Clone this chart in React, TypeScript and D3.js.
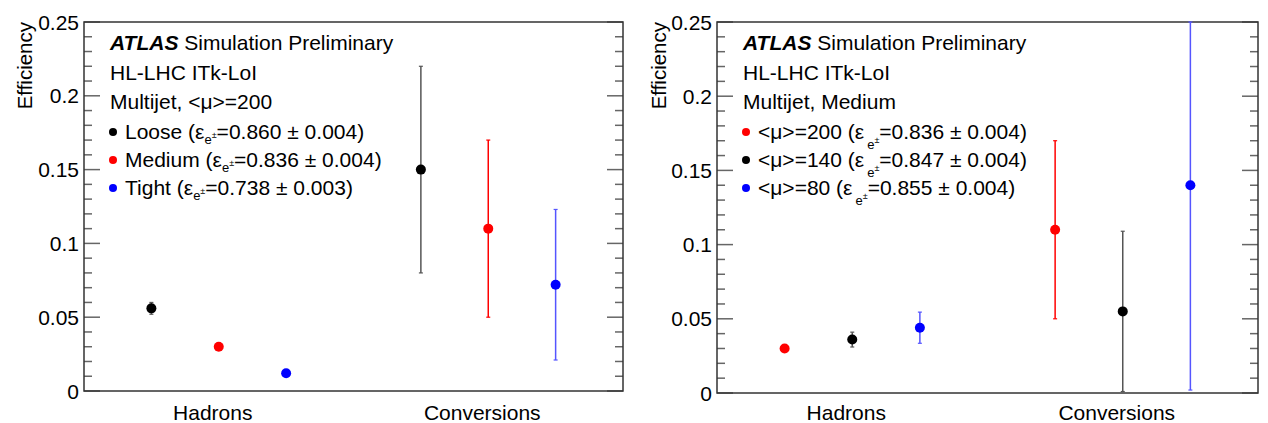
import React from "react";
import * as d3 from "d3";

const W = 1268;
const H = 423;

const categories = ["Hadrons", "Conversions"];
const yTicks = [0, 0.05, 0.1, 0.15, 0.2, 0.25];
const yTickLabels = ["0", "0.05", "0.1", "0.15", "0.2", "0.25"];

// left panel: working points
const leftNames = ["Loose", "Medium", "Tight"];
const leftEff = ["0.860 \u00b1 0.004", "0.836 \u00b1 0.004", "0.738 \u00b1 0.003"];
const leftColors = ["#000000", "#ff0000", "#0000ff"];
const leftHadrons = [0.056, 0.030, 0.012];
const leftHadronsErr = [0.004, 0.0015, 0.001];
const leftConversions = [0.150, 0.110, 0.072];
const leftConversionsErr = [0.070, 0.060, 0.051];

// right panel: pile-up
const rightNames = ["<\u03bc>=200", "<\u03bc>=140", "<\u03bc>=80"];
const rightEff = ["0.836 \u00b1 0.004", "0.847 \u00b1 0.004", "0.855 \u00b1 0.004"];
const rightColors = ["#ff0000", "#000000", "#0000ff"];
const rightHadrons = [0.030, 0.036, 0.044];
const rightHadronsErr = [0.0015, 0.005, 0.0105];
const rightConversions = [0.110, 0.055, 0.140];
const rightConversionsErr = [0.060, 0.054, 0.138];

const FONT = "'Liberation Sans', Arial, Helvetica, sans-serif";
const errColor: Record<string, string> = {
  "#000000": "#555555",
  "#ff0000": "#ff0000",
  "#0000ff": "#5555ff",
};

type PanelProps = {
  x0: number; x1: number; y0: number; y1: number;
  titleX: number;
  subtitle: string;
  names: string[]; eff: string[]; colors: string[];
  hadrons: number[]; hadronsErr: number[];
  conversions: number[]; conversionsErr: number[];
  subDy: number;
  subGap: number;
};

const Panel = (p: PanelProps) => {
  const y = d3.scaleLinear().domain([0, 0.25]).range([p.y1, p.y0]);
  const x = d3.scaleBand().domain(categories).range([p.x0, p.x1]).padding(0);
  const inner = d3.scalePoint<number>().domain([0, 1, 2]).range([x.bandwidth() * 0.25, x.bandwidth() * 0.75]);
  const minor = d3.range(0, 26).map((i) => i * 0.01);
  const clip = (v: number) => Math.min(Math.max(v, 0), 0.25);
  const series = [p.hadrons, p.conversions];
  const errs = [p.hadronsErr, p.conversionsErr];

  return (
    <g fontFamily={FONT}>
      {/* ticks */}
      {minor.map((t, i) => {
        const len = i % 5 === 0 ? 16 : 8;
        return (
          <g key={"t" + i} stroke="#666" strokeWidth={1.5}>
            <line x1={p.x0} x2={p.x0 + len} y1={y(t)} y2={y(t)} />
            <line x1={p.x1} x2={p.x1 - len} y1={y(t)} y2={y(t)} />
          </g>
        );
      })}
      <rect x={p.x0} y={p.y0} width={p.x1 - p.x0} height={p.y1 - p.y0} fill="none" stroke="#333" strokeWidth={1.5} />
      {yTicks.map((t, i) => (
        <text key={"l" + i} x={p.x0 - 5} y={y(t)} dy="0.36em" textAnchor="end" fontSize={21}>{yTickLabels[i]}</text>
      ))}
      <text transform={`translate(${p.titleX},${p.y0}) rotate(-90)`} textAnchor="end" fontSize={20.5}>Efficiency</text>
      {categories.map((c) => (
        <text key={c} x={(x(c) as number) + x.bandwidth() / 2 - 6} y={420} textAnchor="middle" fontSize={21}>{c}</text>
      ))}

      {/* points */}
      {categories.map((c, ci) =>
        series[ci].map((v, si) => {
          const cx = (x(c) as number) + (inner(si) as number);
          const lo = y(clip(v - errs[ci][si]));
          const hi = y(clip(v + errs[ci][si]));
          const ec = errColor[p.colors[si]];
          return (
            <g key={c + si}>
              <line x1={cx} x2={cx} y1={lo} y2={hi} stroke={ec} strokeWidth={1.5} />
              <line x1={cx - 2} x2={cx + 2} y1={lo} y2={lo} stroke={ec} strokeWidth={1.2} />
              <line x1={cx - 2} x2={cx + 2} y1={hi} y2={hi} stroke={ec} strokeWidth={1.2} />
              <circle cx={cx} cy={y(v)} r={5} fill={p.colors[si]} />
            </g>
          );
        })
      )}

      {/* text */}
      <text x={p.x0 + 26} y={50} fontSize={21}>
        <tspan fontWeight="bold" fontStyle="italic">ATLAS</tspan>
        <tspan> Simulation Preliminary</tspan>
      </text>
      <text x={p.x0 + 26} y={80} fontSize={21}>HL-LHC ITk-LoI</text>
      <text x={p.x0 + 26} y={109} fontSize={21}>{p.subtitle}</text>
      {p.names.map((n, i) => {
        const ly = 139 + i * 28;
        return (
          <g key={n}>
            <circle cx={p.x0 + 29} cy={ly - 7} r={4} fill={p.colors[i]} />
            <text x={p.x0 + 41} y={ly} fontSize={21}>
              <tspan>{n} (ε</tspan>
              <tspan fontSize={13} dx={p.subGap} dy={p.subDy}>e</tspan>
              <tspan fontSize={9} dy={-6}>±</tspan>
              <tspan dy={6 - p.subDy}>={p.eff[i]})</tspan>
            </text>
          </g>
        );
      })}
    </g>
  );
};

export default function App() {
  return (
    <svg width={W} height={H} style={{ position: "absolute", left: 0, top: 0, background: "#fff" }}>
      <rect width={W} height={H} fill="#fff" />
      <Panel x0={84} x1={623} y0={22} y1={391} titleX={32} subtitle="Multijet, <μ>=200"
        names={leftNames} eff={leftEff} colors={leftColors}
        hadrons={leftHadrons} hadronsErr={leftHadronsErr}
        conversions={leftConversions} conversionsErr={leftConversionsErr} subDy={5} subGap={0} />
      <Panel x0={717} x1={1258} y0={22} y1={393} titleX={666} subtitle="Multijet, Medium"
        names={rightNames} eff={rightEff} colors={rightColors}
        hadrons={rightHadrons} hadronsErr={rightHadronsErr}
        conversions={rightConversions} conversionsErr={rightConversionsErr} subDy={10} subGap={3} />
    </svg>
  );
}
